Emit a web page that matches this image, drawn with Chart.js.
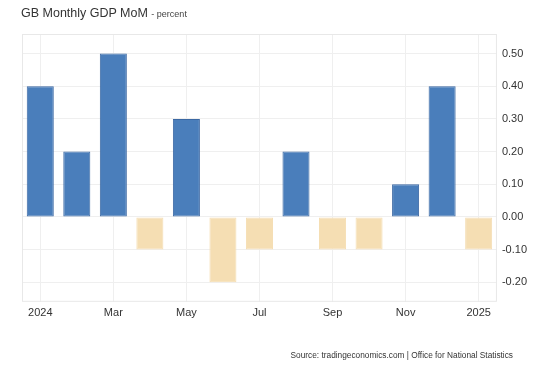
<!DOCTYPE html>
<html>
<head>
<meta charset="utf-8">
<script src="https://cdn.jsdelivr.net/npm/chart.js@4.4.0/dist/chart.umd.min.js"></script>
<style>
  html, body { margin: 0; padding: 0; background: #fff; }
  #wrap { position: relative; width: 540px; height: 369px; font-family: "Liberation Sans", Arial, sans-serif; }
  #titulo { position: absolute; left: 21px; top: 6px; font-size: 12.5px; color: #333; }
  #titulo span { font-size: 9px; color: #444; }
  #fuente { position: absolute; right: 27px; top: 350px; font-size: 8.3px; color: #333; }
</style>
</head>
<body>
<div id="wrap">
  <canvas id="grafico" width="540" height="369"></canvas>
  <div id="titulo">GB Monthly GDP MoM <span>- percent</span></div>
  <div id="fuente">Source: tradingeconomics.com | Office for National Statistics</div>
</div>
<script>
// datos
const meses = ["2024", "Feb", "Mar", "Apr", "May", "Jun", "Jul", "Aug", "Sep", "Oct", "Nov", "Dec", "2025"];
const valores = [0.4, 0.2, 0.5, -0.1, 0.3, -0.2, -0.1, 0.2, -0.1, -0.1, 0.1, 0.4, -0.1];
const ticksY = [-0.2, -0.1, 0, 0.1, 0.2, 0.3, 0.4, 0.5];

const azul = "#4a7ebb";
const beige = "#f5deb3";

// borde fino alrededor del area del grafico
const bordeArea = {
    id: "bordeArea",
    beforeDatasetsDraw(chart) {
        const { ctx, chartArea } = chart;
        ctx.save();
        ctx.strokeStyle = "#e8e8e8";
        ctx.lineWidth = 1;
        ctx.strokeRect(chartArea.left + 0.5, chartArea.top + 0.5, chartArea.width - 1, chartArea.height - 1);
        ctx.restore();
    }
};

new Chart(document.getElementById("grafico"), {
    type: "bar",
    data: {
        labels: meses,
        datasets: [{
            data: valores,
            backgroundColor: valores.map(v => v >= 0 ? azul : beige),
            borderColor: valores.map(v => v >= 0 ? "#3b68a3" : beige),
            borderWidth: 1,
            borderSkipped: false,
            barPercentage: 0.74,
            categoryPercentage: 1
        }]
    },
    options: {
        responsive: false,
        animation: false,
        layout: { padding: { left: 22, top: 34, right: 8, bottom: 44 } },
        plugins: { legend: { display: false }, tooltip: { enabled: false } },
        scales: {
            x: {
                offset: true,
                grid: {
                    offset: false,
                    color: (c) => c.index % 2 === 0 ? "#efefef" : "rgba(0,0,0,0)",
                    drawTicks: false
                },
                border: { display: false },
                ticks: {
                    autoSkip: false,
                    maxRotation: 0,
                    padding: 5,
                    color: "#333",
                    font: { family: "Liberation Sans", size: 11 },
                    callback: (v, i) => i % 2 === 0 ? meses[i] : ""
                }
            },
            y: {
                position: "right",
                min: -0.26,
                max: 0.56,
                afterBuildTicks: (scale) => { scale.ticks = ticksY.map(v => ({ value: v })); },
                grid: { color: "#efefef", drawTicks: false },
                border: { display: false },
                ticks: {
                    padding: 5,
                    color: "#333",
                    font: { family: "Liberation Sans", size: 11 },
                    callback: (v) => v.toFixed(2)
                }
            }
        }
    },
    plugins: [bordeArea]
});
</script>
</body>
</html>
